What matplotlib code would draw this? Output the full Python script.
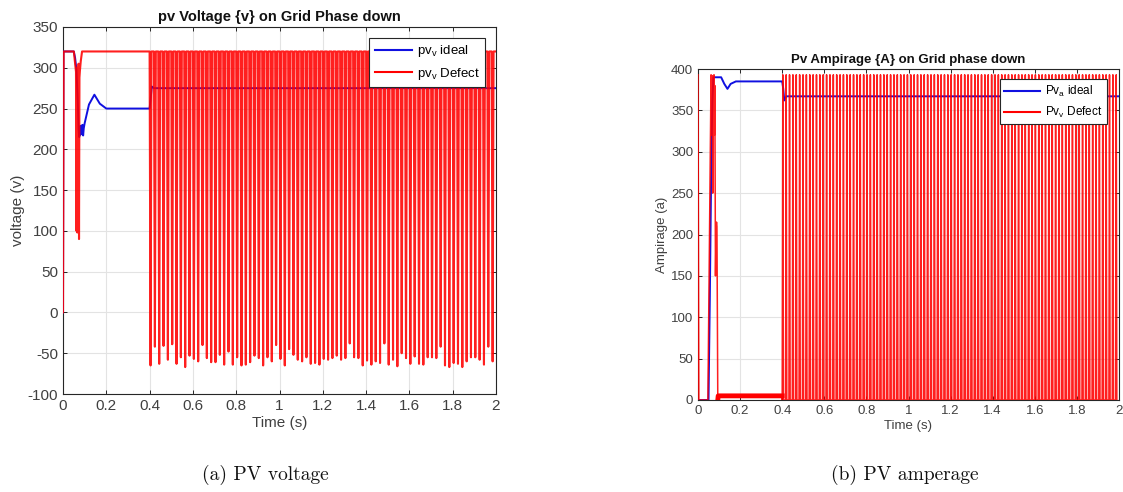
import numpy as np
import matplotlib
matplotlib.use("Agg")
import matplotlib.pyplot as plt

plt.rcParams['font.family'] = ['Liberation Sans', 'DejaVu Sans']
plt.rcParams['mathtext.fontset'] = 'custom'
plt.rcParams['mathtext.rm'] = 'Liberation Sans'
plt.rcParams['mathtext.it'] = 'Liberation Sans'
plt.rcParams['axes.unicode_minus'] = False

# ---------------- PV voltage ----------------
ideal_v_t = [0.0, 0.002, 0.05, 0.056, 0.062, 0.068, 0.072, 0.075, 0.078, 0.081, 0.084,
             0.087, 0.09, 0.093, 0.096, 0.1, 0.12, 0.145, 0.17, 0.2, 0.3, 0.4,
             0.405, 0.41, 0.42, 2.0]
ideal_v = [0, 320, 320, 312, 298, 260, 225, 215, 228, 218, 229, 219, 230, 217, 226,
           232, 255, 267, 256, 250, 250, 250, 262, 277, 275, 275]

defect_v_t = [0.0, 0.003, 0.05, 0.056, 0.06, 0.062, 0.064, 0.066, 0.068, 0.070,
              0.072, 0.074, 0.076, 0.078, 0.082, 0.088, 0.4]
defect_v = [0, 320, 320, 305, 295, 100, 300, 98, 290, 100, 305, 90, 288, 296,
            308, 320, 320]

# switching stage after 0.4 s: one entry per 20 ms cycle
v_cycle_start = 0.4
v_cycle_period = 0.02
v_peak = 320
v_cycle_min = [-65, -42, -63, -41, -58, -39, -63, -55, -67, -53,
               -57, -60, -40, -56, -61, -61, -52, -64, -48, -64,
               -55, -65, -64, -61, -53, -56, -65, -55, -60, -40,
               -57, -65, -45, -52, -58, -60, -55, -63, -62, -64,
               -57, -58, -56, -53, -58, -56, -38, -55, -56, -65,
               -59, -64, -60, -62, -38, -64, -58, -66, -50, -56,
               -63, -54, -63, -64, -55, -55, -56, -42, -65, -67,
               -62, -63, -67, -60, -55, -55, -58, -64, -42, -60]

# ---------------- PV amperage ----------------
ideal_a_t = [0.0, 0.05, 0.056, 0.062, 0.068, 0.073, 0.11, 0.125, 0.14, 0.155, 0.18,
             0.4, 0.405, 0.41, 0.42, 2.0]
ideal_a = [0, 0, 120, 260, 360, 390, 390, 382, 376, 382, 385, 385, 376, 362, 367, 367]

defect_a_t = [0.0, 0.004, 0.047, 0.062, 0.064, 0.066, 0.068, 0.070, 0.072, 0.074,
              0.076, 0.078, 0.080, 0.083, 0.086, 0.088, 0.090, 0.094, 0.096, 0.4]
defect_a = [393, 0, 0, 393, 390, 320, 392, 250, 390, 350, 393, 320, 380, 150,
            210, 215, 210, 0, 5, 5]

a_cycle_start = 0.4
a_cycle_period = 0.016
a_peak = 393
a_low = 0
a_cycles = 100


def switching_trace(t_start, period, highs, lows, shape):
    """Polyline for a train of pulses: one pulse per entry of highs/lows."""
    ts, vs = [], []
    for k, (hi, lo) in enumerate(zip(highs, lows)):
        t0 = t_start + k * period
        for frac, use_hi in shape:
            ts.append(t0 + frac * period)
            vs.append(hi if use_hi else lo)
    return ts, vs


# voltage: sits on the peak, dips to the cycle minimum and returns
v_t, v_vals = switching_trace(v_cycle_start, v_cycle_period,
                              [v_peak] * len(v_cycle_min), v_cycle_min,
                              [(0.0, True), (0.22, False), (0.44, True)])
v_t.append(2.0)
v_vals.append(v_peak)

# current: sits low, rises to the peak and returns
a_t, a_vals = switching_trace(a_cycle_start, a_cycle_period,
                              [a_peak] * a_cycles, [a_low] * a_cycles,
                              [(0.0, False), (0.18, True), (0.36, False)])

W, H = 1123, 492
fig = plt.figure(figsize=(W / 100, H / 100), dpi=100)

ax_col = '#262626'
tick_col = '#404040'
grid_col = '#e3e3e3'


def style_axes(ax):
    ax.grid(True, color=grid_col, linewidth=0.8)
    ax.set_axisbelow(True)
    ax.tick_params(direction='in', colors=ax_col, labelcolor=tick_col,
                   top=True, right=True, length=3, width=0.7)
    for s in ax.spines.values():
        s.set_color(ax_col)
        s.set_linewidth(0.8)
    ax.set_xlim(0, 2)
    ax.set_xticks(np.arange(0, 2.01, 0.2))
    ax.set_xticklabels(['0', '0.2', '0.4', '0.6', '0.8', '1', '1.2', '1.4',
                        '1.6', '1.8', '2'])


# left panel
ax1 = fig.add_axes([63 / W, 1 - 394 / H, (496 - 63) / W, (394 - 27) / H])
style_axes(ax1)
ax1.plot(ideal_v_t, ideal_v, color='#1010e0', lw=1.4,
         label=r'pv$_\mathrm{v}$ ideal', zorder=3)
ax1.plot(defect_v_t + v_t, defect_v + v_vals, color='#ff0000', lw=1.5,
         label=r'pv$_\mathrm{v}$ Defect', alpha=0.88, zorder=4)
ax1.set_ylim(-100, 350)
ax1.set_yticks(np.arange(-100, 351, 50))
ax1.tick_params(labelsize=11)
ax1.set_xlabel('Time (s)', fontsize=11, color=tick_col, labelpad=2)
ax1.set_ylabel('voltage (v)', fontsize=11, color=tick_col, labelpad=2)
ax1.set_title('pv Voltage {v} on Grid Phase down', fontsize=10.5,
              fontweight='bold', color='#111111', pad=4)
leg1 = ax1.legend(loc='upper right', fontsize=9.5, frameon=True, fancybox=False,
                  edgecolor=ax_col, framealpha=1, borderpad=0.4,
                  borderaxespad=0, handlelength=2.8, handletextpad=0.4,
                  bbox_to_anchor=(0.975, 0.97))
leg1.get_frame().set_linewidth(0.8)
for l in leg1.get_lines():
    l.set_linewidth(1.5)
    l.set_alpha(1)

# right panel
ax2 = fig.add_axes([698 / W, 1 - 400 / H, (1119 - 698) / W, (400 - 69) / H])
style_axes(ax2)
ax2.plot(ideal_a_t, ideal_a, color='#1010e0', lw=1.4,
         label=r'Pv$_\mathrm{a}$ ideal', zorder=3)
ax2.plot(defect_a_t + a_t, defect_a + a_vals, color='#ff0000', lw=1.1,
         label=r'Pv$_\mathrm{v}$ Defect', alpha=0.88, zorder=4)
ax2.plot(defect_a_t[-3:], defect_a[-3:], color='#ff0000', lw=3.5, zorder=4)
ax2.set_ylim(0, 400)
ax2.set_yticks(np.arange(0, 401, 50))
ax2.tick_params(labelsize=9.5)
ax2.set_xlabel('Time (s)', fontsize=9.5, color=tick_col, labelpad=2)
ax2.set_ylabel('Ampirage (a)', fontsize=9.5, color=tick_col, labelpad=2)
ax2.set_title('Pv Ampirage {A} on Grid phase down', fontsize=9.5,
              fontweight='bold', color='#111111', pad=4)
leg2 = ax2.legend(loc='upper right', fontsize=8.5, frameon=True, fancybox=False,
                  edgecolor=ax_col, framealpha=1, borderpad=0.4,
                  borderaxespad=0, handlelength=3.0, handletextpad=0.4,
                  bbox_to_anchor=(0.971, 0.97))
leg2.get_frame().set_linewidth(0.8)
for l in leg2.get_lines():
    l.set_linewidth(1.5)
    l.set_alpha(1)

# sub-figure captions
fig.text(265 / W, 1 - 475 / H, '(a) PV voltage', family='cmr10', fontsize=14,
         ha='center', va='center', color='#111111')
fig.text(905 / W, 1 - 475 / H, '(b) PV amperage', family='cmr10', fontsize=14,
         ha='center', va='center', color='#111111')

fig.savefig('out.png', dpi=100)
